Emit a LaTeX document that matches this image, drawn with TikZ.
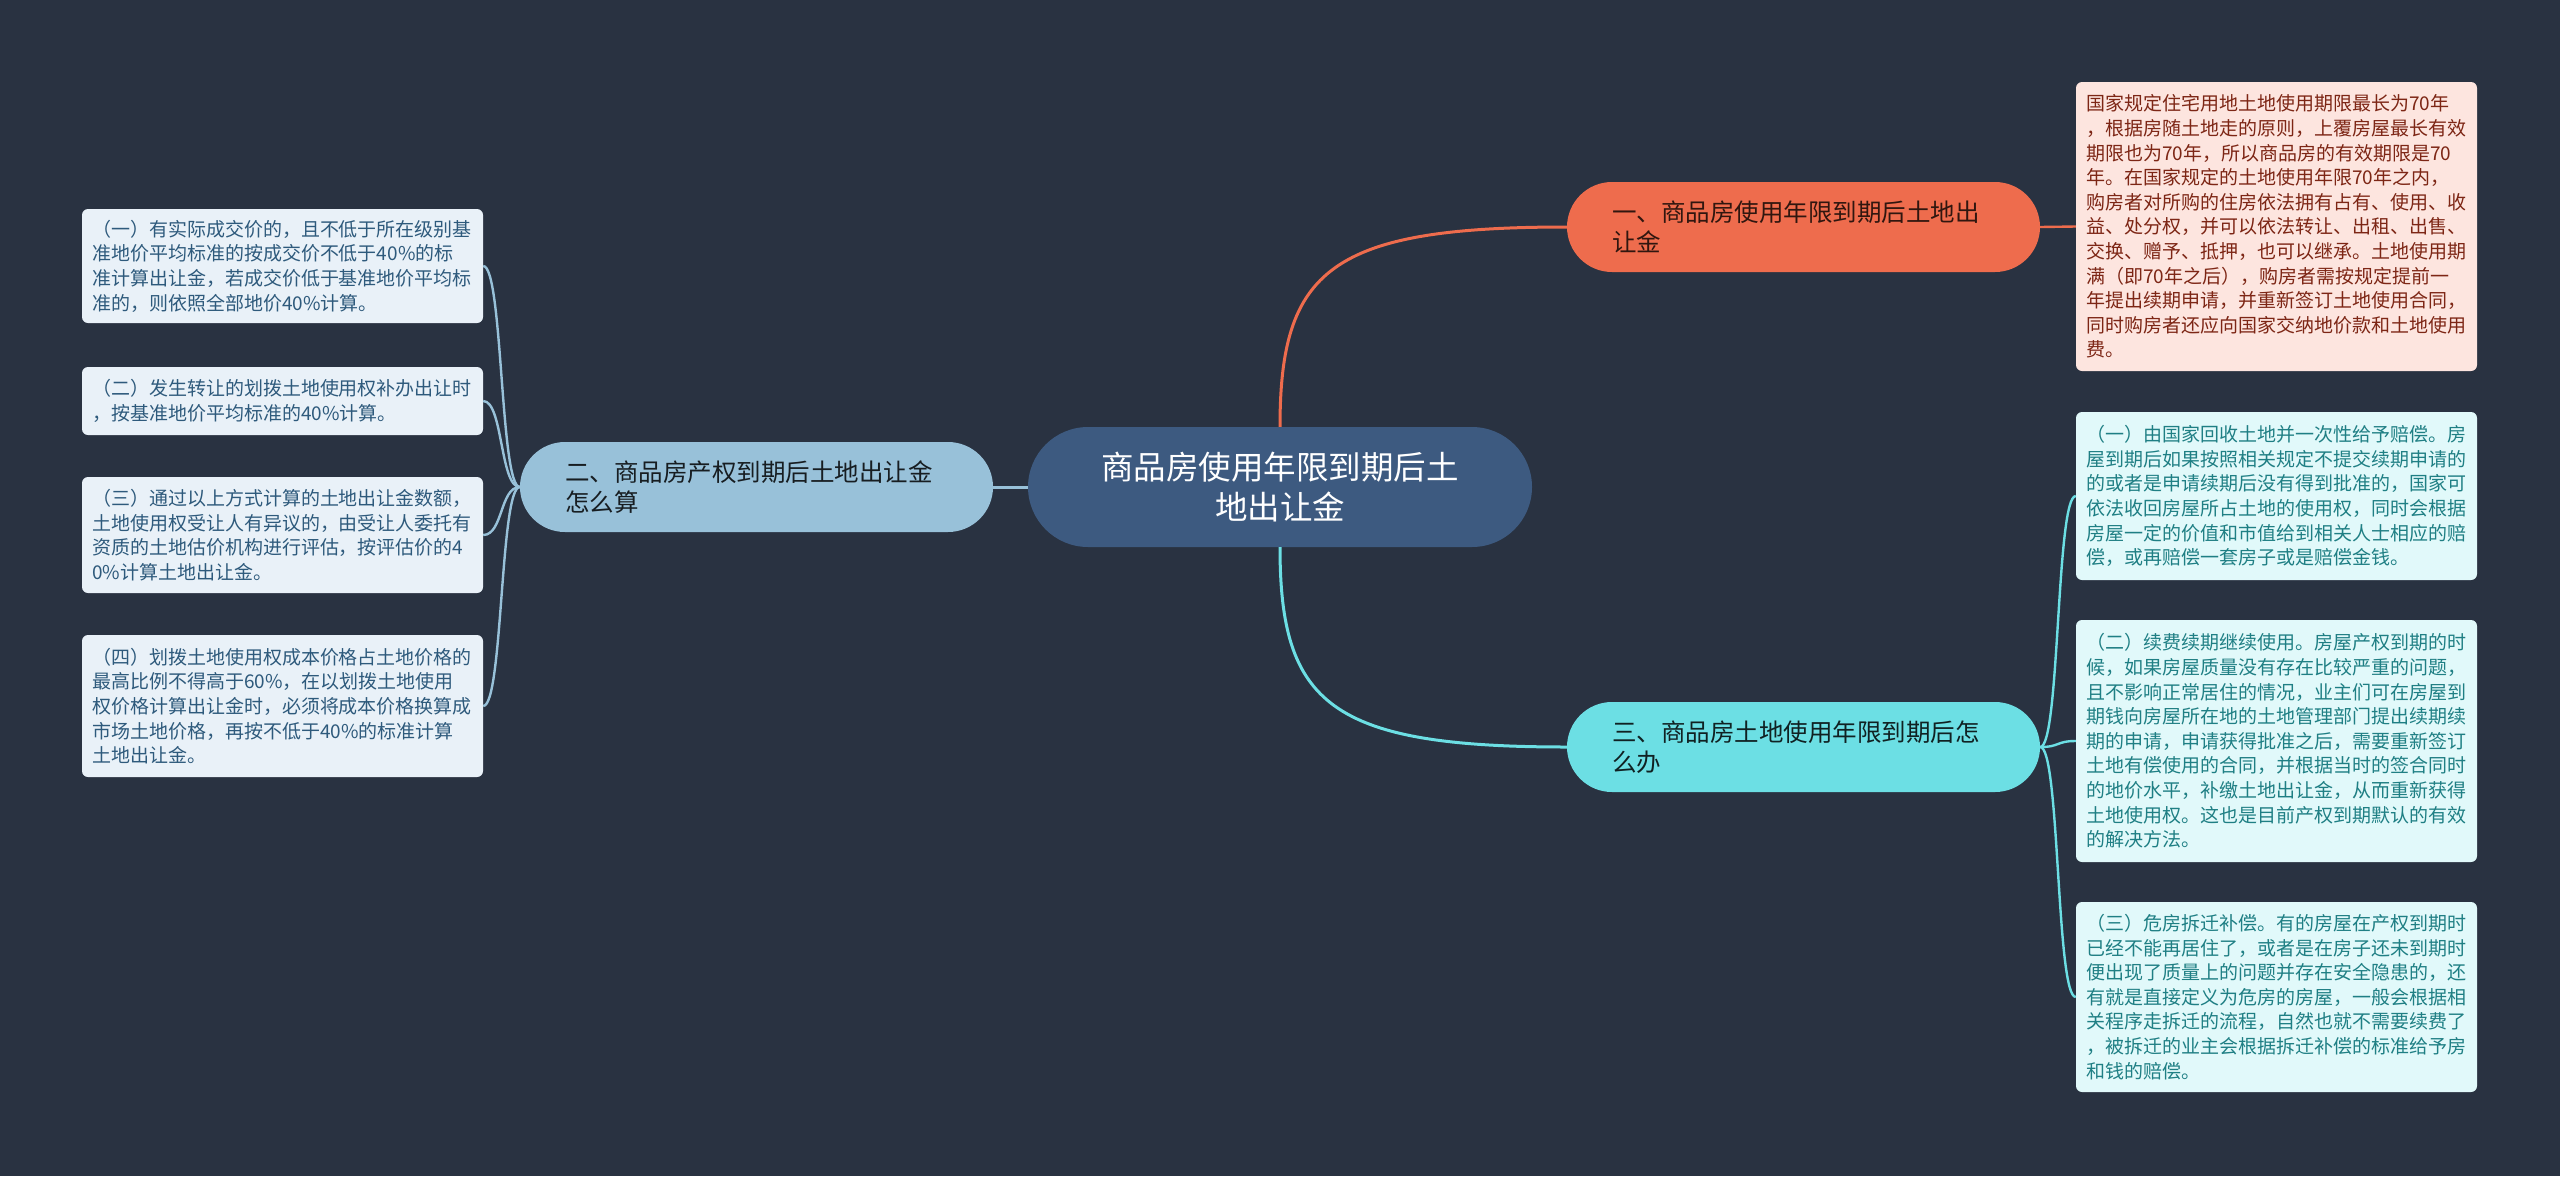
\documentclass[tikz,border=0pt]{standalone}
\usepackage{fontspec}
\newfontfamily\cjk{Noto Sans CJK SC}
\definecolor{bg}{HTML}{293241}
\definecolor{ctr}{HTML}{3D5A80}
\definecolor{bone}{HTML}{EE6C4D}
\definecolor{btwo}{HTML}{98C1D9}
\definecolor{bthree}{HTML}{6CDFE4}
\definecolor{lone}{HTML}{FDE5DF}
\definecolor{lthree}{HTML}{E1F9FA}
\definecolor{ltwo}{HTML}{E9F1F8}
\definecolor{tone}{HTML}{7D2615}
\definecolor{tthree}{HTML}{1F7F84}
\definecolor{ttwo}{HTML}{2E5A7C}
\tikzset{
  leafbox/.style={rectangle, rounded corners=6pt, inner xsep=10pt, inner ysep=0pt,
    text width=381pt, minimum width=401pt, align=left,
    font=\cjk\fontsize{19}{24.6}\selectfont},
  branchbox/.style={rectangle, rounded corners=45pt, inner xsep=45pt, inner ysep=0pt,
    text width=383pt, minimum width=473pt, minimum height=90pt, align=left,
    font=\cjk\fontsize{24.5}{30}\selectfont},
  centerbox/.style={rectangle, rounded corners=60pt, fill=ctr, text=white,
    minimum width=504pt, minimum height=120pt, align=center,
    font=\cjk\fontsize{32.5}{40}\selectfont},
  mainline/.style={line width=3pt},
  leafline/.style={line width=2.4pt},
}
\begin{document}
\begin{tikzpicture}[x=1pt,y=-1pt]
\fill[bg] (0,0) rectangle (2560,1176);
\useasboundingbox (0,0) rectangle (2560,1176);

\node[centerbox] (C) at (1280,487) {商品房使用年限到期后土\\地出让金};

\node[branchbox, fill=bone, text=black!80!bone] (B1) at (1803.5,227) {一、商品房使用年限到期后土地出\\让金};
\node[branchbox, fill=btwo, text=black!85!btwo] (B2) at (756.5,487) {二、商品房产权到期后土地出让金\\怎么算};
\node[branchbox, fill=bthree, text=black!85!bthree] (B3) at (1803.5,747) {三、商品房土地使用年限到期后怎\\么办};

\node[leafbox, fill=lone, text=tone, minimum height=289pt] (R1) at (2276.5,226.5) {国家规定住宅用地土地使用期限最长为70年\\，根据房随土地走的原则，上覆房屋最长有效\\期限也为70年，所以商品房的有效期限是70\\年。在国家规定的土地使用年限70年之内，\\购房者对所购的住房依法拥有占有、使用、收\\益、处分权，并可以依法转让、出租、出售、\\交换、赠予、抵押，也可以继承。土地使用期\\满（即70年之后），购房者需按规定提前一\\年提出续期申请，并重新签订土地使用合同，\\同时购房者还应向国家交纳地价款和土地使用\\费。};

\node[leafbox, fill=lthree, text=tthree, minimum height=168pt] (R2) at (2276.5,496) {（一）由国家回收土地并一次性给予赔偿。房\\屋到期后如果按照相关规定不提交续期申请的\\的或者是申请续期后没有得到批准的，国家可\\依法收回房屋所占土地的使用权，同时会根据\\房屋一定的价值和市值给到相关人士相应的赔\\偿，或再赔偿一套房子或是赔偿金钱。};

\node[leafbox, fill=lthree, text=tthree, minimum height=242pt] (R3) at (2276.5,741) {（二）续费续期继续使用。房屋产权到期的时\\候，如果房屋质量没有存在比较严重的问题，\\且不影响正常居住的情况，业主们可在房屋到\\期钱向房屋所在地的土地管理部门提出续期续\\期的申请，申请获得批准之后，需要重新签订\\土地有偿使用的合同，并根据当时的签合同时\\的地价水平，补缴土地出让金，从而重新获得\\土地使用权。这也是目前产权到期默认的有效\\的解决方法。};

\node[leafbox, fill=lthree, text=tthree, minimum height=190pt] (R4) at (2276.5,997) {（三）危房拆迁补偿。有的房屋在产权到期时\\已经不能再居住了，或者是在房子还未到期时\\便出现了质量上的问题并存在安全隐患的，还\\有就是直接定义为危房的房屋，一般会根据相\\关程序走拆迁的流程，自然也就不需要续费了\\，被拆迁的业主会根据拆迁补偿的标准给予房\\和钱的赔偿。};

\node[leafbox, fill=ltwo, text=ttwo, minimum height=114pt] (L1) at (282.5,266) {（一）有实际成交价的，且不低于所在级别基\\准地价平均标准的按成交价不低于40\%的标\\准计算出让金，若成交价低于基准地价平均标\\准的，则依照全部地价40\%计算。};

\node[leafbox, fill=ltwo, text=ttwo, minimum height=68pt] (L2) at (282.5,401) {（二）发生转让的划拨土地使用权补办出让时\\，按基准地价平均标准的40\%计算。};

\node[leafbox, fill=ltwo, text=ttwo, minimum height=116pt] (L3) at (282.5,535) {（三）通过以上方式计算的土地出让金数额，\\土地使用权受让人有异议的，由受让人委托有\\资质的土地估价机构进行评估，按评估价的4\\0\%计算土地出让金。};

\node[leafbox, fill=ltwo, text=ttwo, minimum height=142pt] (L4) at (282.5,706) {（四）划拨土地使用权成本价格占土地价格的\\最高比例不得高于60\%，在以划拨土地使用\\权价格计算出让金时，必须将成本价格换算成\\市场土地价格，再按不低于40\%的标准计算\\土地出让金。};

% main connectors
\draw[mainline, bone] (C.north) .. controls (1280,270) and (1330,227) .. (B1.west);
\draw[mainline, bthree] (C.south) .. controls (1280,704) and (1330,747) .. (B3.west);
\draw[mainline, btwo] (C.west) -- (B2.east);

% leaf connectors
\draw[leafline, bone] (B1.east) -- (R1.west);
\draw[leafline, bthree] (B3.east) .. controls (2060,747) and (2056,496) .. (R2.west);
\draw[leafline, bthree] (B3.east) .. controls (2060,747) and (2056,741) .. (R3.west);
\draw[leafline, bthree] (B3.east) .. controls (2060,747) and (2056,997) .. (R4.west);
\draw[leafline, btwo] (B2.west) .. controls (500,487) and (503,266) .. (L1.east);
\draw[leafline, btwo] (B2.west) .. controls (500,487) and (503,401) .. (L2.east);
\draw[leafline, btwo] (B2.west) .. controls (500,487) and (503,535) .. (L3.east);
\draw[leafline, btwo] (B2.west) .. controls (500,487) and (503,706) .. (L4.east);
\end{tikzpicture}
\end{document}
